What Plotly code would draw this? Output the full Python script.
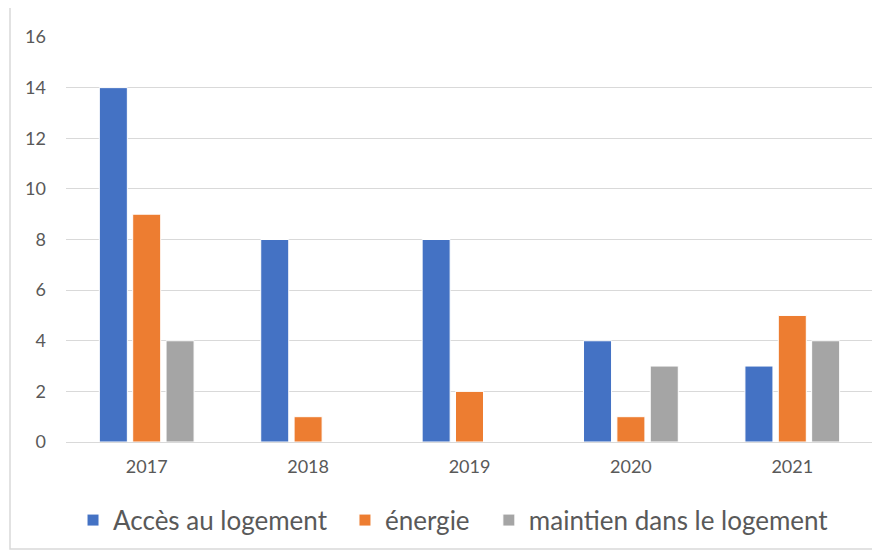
import plotly.graph_objects as go

years = ["2017", "2018", "2019", "2020", "2021"]
acces = [14, 8, 8, 4, 3]
energie = [9, 1, 2, 1, 5]
maintien = [4, 0, 0, 3, 4]

series = [
    ("Accès au logement", acces, "#4472C4"),
    ("énergie", energie, "#ED7D31"),
    ("maintien dans le logement", maintien, "#A5A5A5"),
]

# one legend per series so the spacing between entries can match
legend_ids = ["legend", "legend2", "legend3"]
legend_x = [0.0087, 0.3457, 0.524]

fig = go.Figure()
for (name, vals, color), lid in zip(series, legend_ids):
    fig.add_trace(go.Bar(
        x=years, y=vals, name=name, legend=lid,
        marker=dict(color=color, line=dict(color="white", width=1)),
    ))

# chart area border
fig.add_shape(type="rect", xref="paper", yref="paper",
              x0=-0.0694, x1=1.0074, y0=-0.264, y1=1.079,
              line=dict(color="#D9D9D9", width=1.5), fillcolor="rgba(0,0,0,0)",
              layer="below")

leg_style = dict(orientation="h", xanchor="left", y=-0.193, yanchor="middle",
                 font=dict(size=26, color="#595959"), itemwidth=30,
                 bgcolor="rgba(0,0,0,0)")

# page has an 8px body margin, so the figure is sized a bit smaller
fig.update_layout(
    width=872, height=543,
    margin=dict(l=58, r=7, t=29, b=109),
    paper_bgcolor="white", plot_bgcolor="white",
    barmode="group", bargap=0.38, bargroupgap=0.16,
    font=dict(family="Lato, Open Sans, sans-serif", color="#595959", size=18),
    showlegend=True,
    legend=dict(x=legend_x[0], **leg_style),
    legend2=dict(x=legend_x[1], **leg_style),
    legend3=dict(x=legend_x[2], **leg_style),
    xaxis=dict(showgrid=False, showline=False, ticks="", ticklabelstandoff=12,
               tickfont=dict(size=18)),
    yaxis=dict(range=[0, 16], dtick=2, showgrid=True, gridcolor="#D9D9D9",
               gridwidth=1, zeroline=True, zerolinecolor="#D9D9D9", zerolinewidth=1,
               ticks="", ticklabelstandoff=19, tickfont=dict(size=18)),
)

fig.write_html("out.html")
